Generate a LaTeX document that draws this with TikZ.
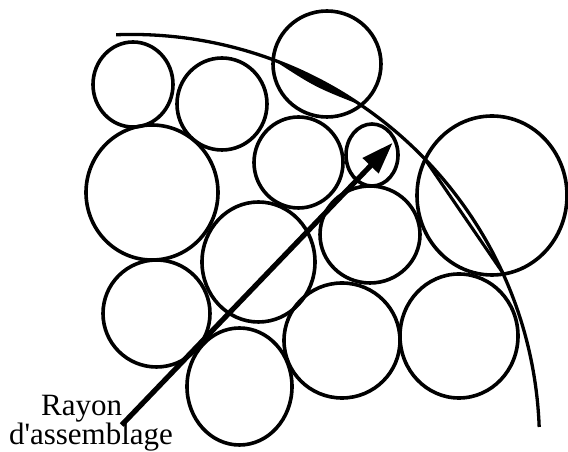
\documentclass[tikz,border=0pt]{standalone}
\usepackage{fontspec}
\setmainfont{Liberation Serif}
\usetikzlibrary{arrows.meta}
\tikzset{
  pin/.style={draw=black, line width=3.6pt},
  boundary/.style={draw=black, line width=3.3pt},
  chordline/.style={draw=black, line width=3.1pt},
  raystyle/.style={draw=black, line width=5.2pt, -{Triangle[length=32pt,width=21pt]}},
  lab/.style={font=\fontsize{31}{31}\selectfont, inner sep=0pt, anchor=base}
}
\begin{document}
\begin{tikzpicture}[x=1pt,y=1pt]
\useasboundingbox (0,0) rectangle (568,452);
% pins
\draw[pin] (133,367.5) ellipse [x radius=40pt, y radius=42.5pt];
\draw[pin] (222,348) ellipse [x radius=45pt, y radius=46pt];
\draw[pin] (327,388) ellipse [x radius=54pt, y radius=53pt];
\draw[pin] (152,259.5) ellipse [x radius=66pt, y radius=67.5pt];
\draw[pin] (298.5,289.5) ellipse [x radius=44.5pt, y radius=45.5pt];
\draw[pin] (372,297) ellipse [x radius=26pt, y radius=31pt];
\draw[pin] (492,256.5) ellipse [x radius=75pt, y radius=79.5pt];
\draw[pin] (370,217.5) ellipse [x radius=50pt, y radius=48.5pt];
\draw[pin] (258.5,190) ellipse [x radius=56.5pt, y radius=60pt];
\draw[pin] (156.5,138.5) ellipse [x radius=53.5pt, y radius=53.5pt];
\draw[pin] (239.5,65.5) ellipse [x radius=52.5pt, y radius=58.5pt];
\draw[pin] (342,111.5) ellipse [x radius=58pt, y radius=57.5pt];
\draw[pin] (459,116) ellipse [x radius=59pt, y radius=62pt];
% assembly boundary
\coordinate (C) at (131.5,9.55);
\coordinate (a0) at ([shift={(92.17:408pt)}]C);
\coordinate (t1) at ([shift={(69.7:408pt)}]C);
\coordinate (t2) at ([shift={(55.7:408pt)}]C);
\coordinate (tc) at ([shift={(62.7:400pt)}]C);
\coordinate (r1) at ([shift={(44.1:408pt)}]C);
\coordinate (r2) at ([shift={(24.7:408pt)}]C);
\draw[boundary] (a0) arc[start angle=92.17, end angle=2.17, radius=408pt];
\fill[black] (t1) arc[start angle=69.7, end angle=55.7, radius=408pt] .. controls (tc) .. (t1) -- cycle;
\draw[chordline] (r1) -- (r2);
% ray
\coordinate (tail) at (121.7,27);
\coordinate (tip) at (392.7,309.3);
\draw[raystyle] (tail) -- (tip);
% labels
\node[lab] (lab1) at (81.7,36) {Rayon};
\node[lab] (lab2) at (91,7.5) {d\textquotesingle assemblage};
\end{tikzpicture}
\end{document}
